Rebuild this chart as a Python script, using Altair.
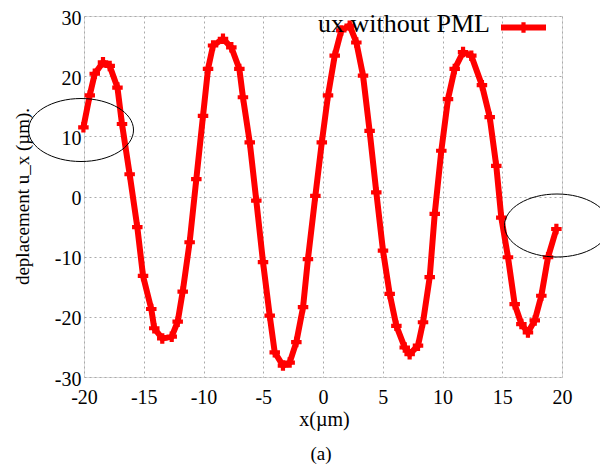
import altair as alt
import pandas as pd

# ---- data ----
x_um = [-20.05, -19.52, -19.1, -18.41, -17.85, -17.2, -16.82, -16.18, -15.54, -15.06,
        -14.37, -14.12, -13.45, -12.66, -12.16, -11.74, -11.16, -10.6, -10.04, -9.62,
        -9.2, -8.37, -7.67, -7.0, -6.7, -6.13, -5.58, -5.02, -4.46, -4.04,
        -3.35, -2.79, -2.23, -1.67, -1.26, -0.64, -0.1, 0.42, 0.98, 1.53,
        2.23, 2.79, 3.35, 3.9, 4.46, 5.02, 5.58, 6.14, 6.84, 7.25,
        7.95, 8.37, 8.93, 9.35, 9.9, 10.46, 11.02, 11.72, 12.41, 13.3,
        13.95, 14.5, 14.92, 15.48, 16.04, 16.6, 17.15, 17.72, 18.27, 18.83,
        19.53]
ux = [11.5, 16.8, 20.4, 22.3, 21.7, 18.1, 12.05, 3.7, -5.1, -13.2,
      -18.7, -21.9, -23.6, -23.3, -20.8, -15.8, -7.6, 2.9, 13.4, 21.2,
      25.1, 26.2, 24.8, 21.2, 16.5, 9.0, -0.7, -10.9, -19.8, -25.9,
      -28.1, -27.6, -24.2, -18.4, -10.4, 0.1, 9.0, 16.8, 23.4, 27.6,
      28.4, 25.6, 20.1, 10.9, 0.7, -9.0, -16.2, -21.5, -25.1, -26.2,
      -24.8, -20.9, -13.4, -2.9, 7.6, 16.2, 21.2, 24.0, 23.4, 18.5,
      13.2, 5.1, -3.5, -10.1, -17.9, -21.2, -22.6, -20.6, -16.5, -10.1,
      -5.4]

x_ticks = [-20, -15, -10, -5, 0, 5, 10, 15, 20]
y_ticks = [-30, -20, -10, 0, 10, 20, 30]

ellipse_x = [-20.25, 19.58]
ellipse_y = [11.05, -4.82]

legend_label = "ux without PML"
x_title = "x(\u00b5m)"
y_title = "deplacement  u_x (\u00b5m)."
caption = "(a)"

FONT = "Liberation Serif"
RED = "#ff0000"

df = pd.DataFrame({"x": x_um, "y": ux})
df_ell = pd.DataFrame({"x": ellipse_x, "y": ellipse_y})

xs = alt.Scale(domain=[-20, 20], nice=False, zero=False)
ys = alt.Scale(domain=[-30, 30], nice=False, zero=False)

x_axis = alt.Axis(values=x_ticks, title=x_title, labelFont=FONT, labelFontSize=20,
                  labelColor="black", labelPadding=10, ticks=False, tickSize=0,
                  labelFlush=False, labelExpr="'' + datum.value",
                  domain=False, grid=True, gridDash=[2, 3], gridColor="#aaaaaa",
                  titleFont=FONT, titleFontSize=20, titleFontWeight="normal",
                  titleColor="black", titleX=240, titleY=42, titleBaseline="middle")
y_axis = alt.Axis(values=y_ticks, title=y_title, labelFont=FONT, labelFontSize=20,
                  labelColor="black", labelPadding=3, ticks=False, tickSize=0,
                  labelFlush=False, labelOffset=2, labelExpr="'' + datum.value",
                  domain=False, grid=True, gridDash=[2, 3], gridColor="#aaaaaa",
                  titleFont=FONT, titleFontSize=19, titleFontWeight="normal",
                  titleColor="black", titleX=-62, titleY=180, titleBaseline="middle",
                  titleAngle=-90)

line = alt.Chart(df).mark_line(color=RED, strokeWidth=6).encode(
    x=alt.X("x:Q", scale=xs, axis=x_axis),
    y=alt.Y("y:Q", scale=ys, axis=y_axis),
)
pts = alt.Chart(df).mark_point(shape="cross", filled=True, color=RED, size=110, opacity=1).encode(
    x=alt.X("x:Q", scale=xs),
    y=alt.Y("y:Q", scale=ys),
)

ellipse_path = ("M -1 0 C -1 -0.3314 -0.5523 -0.6 0 -0.6 C 0.5523 -0.6 1 -0.3314 1 0 "
                "C 1 0.3314 0.5523 0.6 0 0.6 C -0.5523 0.6 -1 0.3314 -1 0 Z")
ell = alt.Chart(df_ell).mark_point(shape=ellipse_path, filled=False, color="black",
                                   strokeWidth=1, size=11025, opacity=1).encode(
    x=alt.X("x:Q", scale=xs),
    y=alt.Y("y:Q", scale=ys),
)

leg_df = pd.DataFrame({"t": [legend_label]})
leg_text = alt.Chart(leg_df).mark_text(font=FONT, fontSize=26, align="right",
                                       baseline="alphabetic", color="black").encode(
    x=alt.value(406), y=alt.value(16), text="t:N")
leg_line = alt.Chart(leg_df).mark_rule(color=RED, strokeWidth=6).encode(
    x=alt.value(417), x2=alt.value(462), y=alt.value(11.5))
leg_pt = alt.Chart(leg_df).mark_point(shape="cross", filled=True, color=RED, size=110, opacity=1).encode(
    x=alt.value(439.5), y=alt.value(11.5))

cap_df = pd.DataFrame({"t": [caption]})
cap = alt.Chart(cap_df).mark_text(font=FONT, fontSize=19, align="center",
                                  baseline="middle", color="black").encode(
    x=alt.value(237), y=alt.value(438), text="t:N")

chart = alt.layer(line, pts, ell, leg_line, leg_pt, leg_text, cap).properties(
    width=478, height=361,
    autosize=alt.AutoSizeParams(type="none"),
    padding={"left": 76, "top": 8, "right": 38, "bottom": 90},
).configure_view(stroke="#444444", strokeWidth=1).configure(
    background="white", font=FONT
).configure_axis(labelFont=FONT, titleFont=FONT)

chart.save("out.html", embed_options={"renderer": "svg", "actions": False})
